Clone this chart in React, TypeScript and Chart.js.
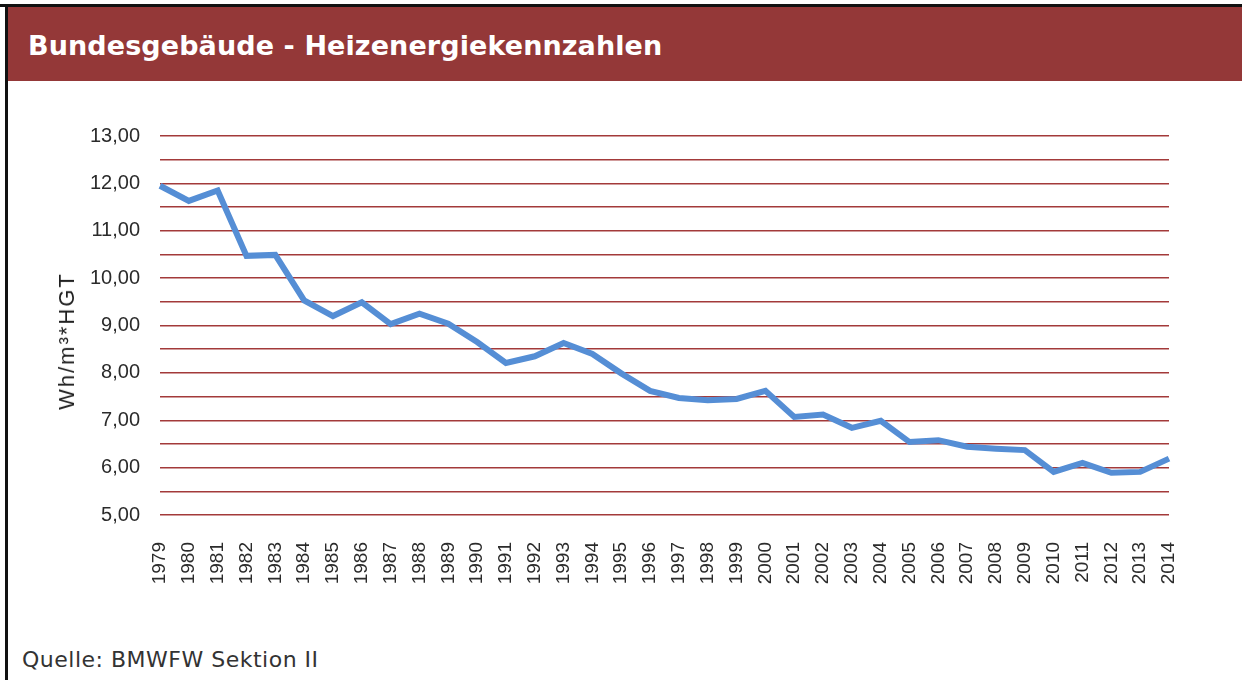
import React, { useEffect, useRef } from 'react';
import { Chart, registerables } from 'chart.js';

Chart.register(...registerables);

const years = [
  '1979', '1980', '1981', '1982', '1983', '1984', '1985', '1986', '1987', '1988',
  '1989', '1990', '1991', '1992', '1993', '1994', '1995', '1996', '1997', '1998',
  '1999', '2000', '2001', '2002', '2003', '2004', '2005', '2006', '2007', '2008',
  '2009', '2010', '2011', '2012', '2013', '2014',
];

const heizenergie = [
  11.95, 11.63, 11.85, 10.47, 10.49, 9.53, 9.2, 9.49, 9.03, 9.25,
  9.04, 8.65, 8.21, 8.35, 8.63, 8.4, 7.99, 7.62, 7.47, 7.42,
  7.45, 7.62, 7.07, 7.12, 6.84, 6.99, 6.54, 6.58, 6.44, 6.4,
  6.37, 5.91, 6.1, 5.89, 5.91, 6.19,
];

const yMin = 5;
const yMax = 13;
const yStep = 0.5;

const titleText = 'Bundesgebäude - Heizenergiekennzahlen';
const yAxisTitle = 'Wh/m³*HGT';
const sourceText = 'Quelle: BMWFW Sektion II';

export default function App() {
  const canvasRef = useRef<HTMLCanvasElement>(null);

  useEffect(() => {
    document.body.style.margin = '0';
    const canvas = canvasRef.current;
    if (!canvas) return;
    const chart = new Chart(canvas, {
      type: 'line',
      data: {
        labels: years,
        datasets: [
          {
            data: heizenergie,
            borderColor: '#558ED5',
            backgroundColor: '#558ED5',
            borderWidth: 6,
            pointRadius: 0,
            pointHoverRadius: 0,
            tension: 0,
            fill: false,
          },
        ],
      },
      options: {
        animation: false,
        responsive: false,
        devicePixelRatio: 1,
        layout: { padding: { left: 0, right: 73, top: 46, bottom: 35 } },
        plugins: {
          legend: { display: false },
          tooltip: { enabled: false },
          title: { display: false },
        },
        scales: {
          x: {
            offset: false,
            grid: { display: false, drawTicks: false },
            border: { display: false },
            ticks: {
              minRotation: 90,
              maxRotation: 90,
              autoSkip: false,
              padding: 27,
              color: '#2b2b2b',
              font: { family: '"Liberation Sans", Arial, sans-serif', size: 19 },
            },
            afterFit: (s: any) => {
              s.height = 80;
            },
          },
          y: {
            min: yMin,
            max: yMax,
            grid: { color: '#a33a3a', lineWidth: 1.5, drawTicks: false },
            border: { display: false },
            ticks: {
              stepSize: yStep,
              autoSkip: false,
              padding: 20,
              color: '#2b2b2b',
              font: { family: '"Liberation Sans", Arial, sans-serif', size: 20 },
              callback: (v: any) => {
                const n = Number(v);
                return Math.abs(n - Math.round(n)) < 1e-9 ? n.toFixed(2).replace('.', ',') : '';
              },
            },
            afterFit: (s: any) => {
              s.width = 160;
            },
          },
        },
      },
    });
    return () => chart.destroy();
  }, []);

  return (
    <div
      style={{
        position: 'fixed',
        left: 0,
        top: 0,
        width: 1242,
        height: 680,
        background: '#ffffff',
        overflow: 'hidden',
      }}
    >
      <div style={{ position: 'absolute', left: 0, top: 4, width: 1242, height: 3, background: '#111' }} />
      <div style={{ position: 'absolute', left: 5, top: 4, width: 3, height: 676, background: '#111' }} />
      <div
        style={{
          position: 'absolute',
          left: 8,
          top: 7,
          width: 1234,
          height: 74,
          background: '#943838',
        }}
      />
      <div
        style={{
          position: 'absolute',
          left: 28,
          top: 30,
          fontFamily: '"DejaVu Sans", Verdana, sans-serif',
          fontWeight: 'bold',
          fontSize: 27,
          letterSpacing: 0.1,
          lineHeight: 'normal',
          color: '#ffffff',
          whiteSpace: 'nowrap',
        }}
      >
        {titleText}
      </div>
      <canvas
        ref={canvasRef}
        width={1242}
        height={540}
        style={{ position: 'absolute', left: 0, top: 90, width: 1242, height: 540 }}
      />
      <div
        style={{
          position: 'absolute',
          left: 66.5,
          top: 341,
          transform: 'translate(-50%, -50%) rotate(-90deg)',
          fontFamily: '"Liberation Sans", Arial, sans-serif',
          fontSize: 22,
          letterSpacing: 2,
          color: '#1f1f1f',
          whiteSpace: 'nowrap',
          lineHeight: 'normal',
        }}
      >
        {yAxisTitle}
      </div>
      <div
        style={{
          position: 'absolute',
          left: 22,
          top: 647,
          fontFamily: '"DejaVu Sans", Verdana, sans-serif',
          fontSize: 22,
          letterSpacing: 0.5,
          lineHeight: 'normal',
          color: '#333333',
          whiteSpace: 'nowrap',
        }}
      >
        {sourceText}
      </div>
    </div>
  );
}
